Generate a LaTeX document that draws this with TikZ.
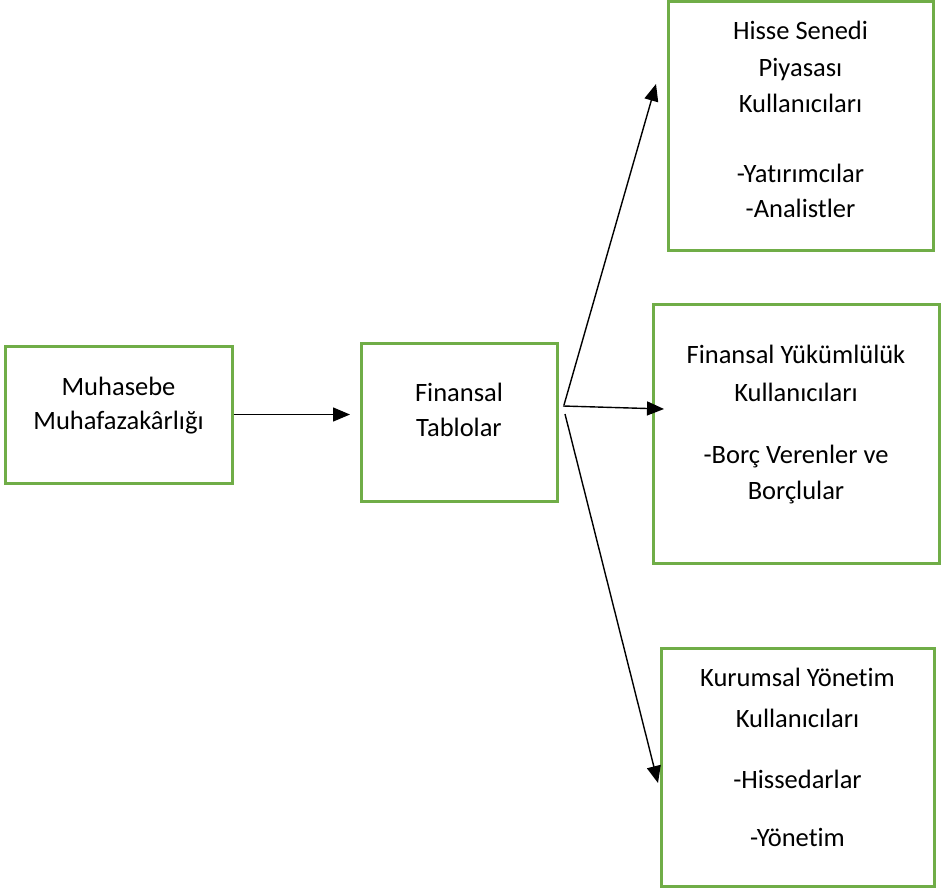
\documentclass[tikz,border=0pt]{standalone}
\usepackage{fontspec}
\setmainfont[Ligatures={NoCommon}]{Carlito}
\usetikzlibrary{arrows.meta}
\definecolor{boxgreen}{HTML}{70AD47}
\begin{document}
\begin{tikzpicture}[x=1pt,y=-1pt,
  box/.style={draw=boxgreen, line width=3pt, inner sep=0pt, fill=white},
  txt/.style={font=\fontsize{26.5}{30}\selectfont, anchor=base, inner sep=0pt},
  arr/.style={line width=1.4pt, -{Triangle[length=17pt,width=14pt]}}]
\useasboundingbox (0,0) rectangle (947,891);
% boxes
\node[box, minimum width=227pt, minimum height=137pt] (b1) at (118.5,414.5) {};
\node[box, minimum width=196pt, minimum height=158pt] (b2) at (459,422) {};
\node[box, minimum width=265pt, minimum height=248pt] (b3) at (800.5,126) {};
\node[box, minimum width=286pt, minimum height=259pt] (b4) at (796,433.5) {};
\node[box, minimum width=273pt, minimum height=238pt] (b5) at (797.5,767) {};
% texts
\node[txt] (t1a) at (118.5,395) {Muhasebe};
\node[txt] (t1b) at (118.5,429) {Muhafazakârlığı};
\node[txt] (t2a) at (459,401) {Finansal};
\node[txt] (t2b) at (459,436) {Tablolar};
\node[txt] (t3a) at (800.5,40) {Hisse Senedi};
\node[txt] (t3b) at (800.5,77) {Piyasası};
\node[txt] (t3c) at (800.5,112) {Kullanıcıları};
\node[txt] (t3d) at (800.5,182) {-Yatırımcılar};
\node[txt] (t3e) at (800.5,217) {-Analistler};
\node[txt] (t4a) at (796,363) {Finansal Yükümlülük};
\node[txt] (t4b) at (796,401) {Kullanıcıları};
\node[txt] (t4c) at (796,463) {-Borç Verenler ve};
\node[txt] (t4d) at (796,499) {Borçlular};
\node[txt] (t5a) at (797.5,686) {Kurumsal Yönetim};
\node[txt] (t5b) at (797.5,727) {Kullanıcıları};
\node[txt] (t5c) at (797.5,788) {-Hissedarlar};
\node[txt] (t5d) at (797.5,846) {-Yönetim};
% connector ends
\coordinate (e1) at (350,414.5);
\coordinate (f3) at (564,405);
\coordinate (f4) at (563,406);
\coordinate (f5) at (565,414);
\coordinate (e3) at (656,84);
\coordinate (e4) at (664,409);
\coordinate (e5) at (658,783);
% connectors
\draw[arr] (b1.east) -- (e1);
\draw[arr] (f3) -- (e3);
\draw[arr] (f4) -- (e4);
\draw[arr] (f5) -- (e5);
\end{tikzpicture}
\end{document}
